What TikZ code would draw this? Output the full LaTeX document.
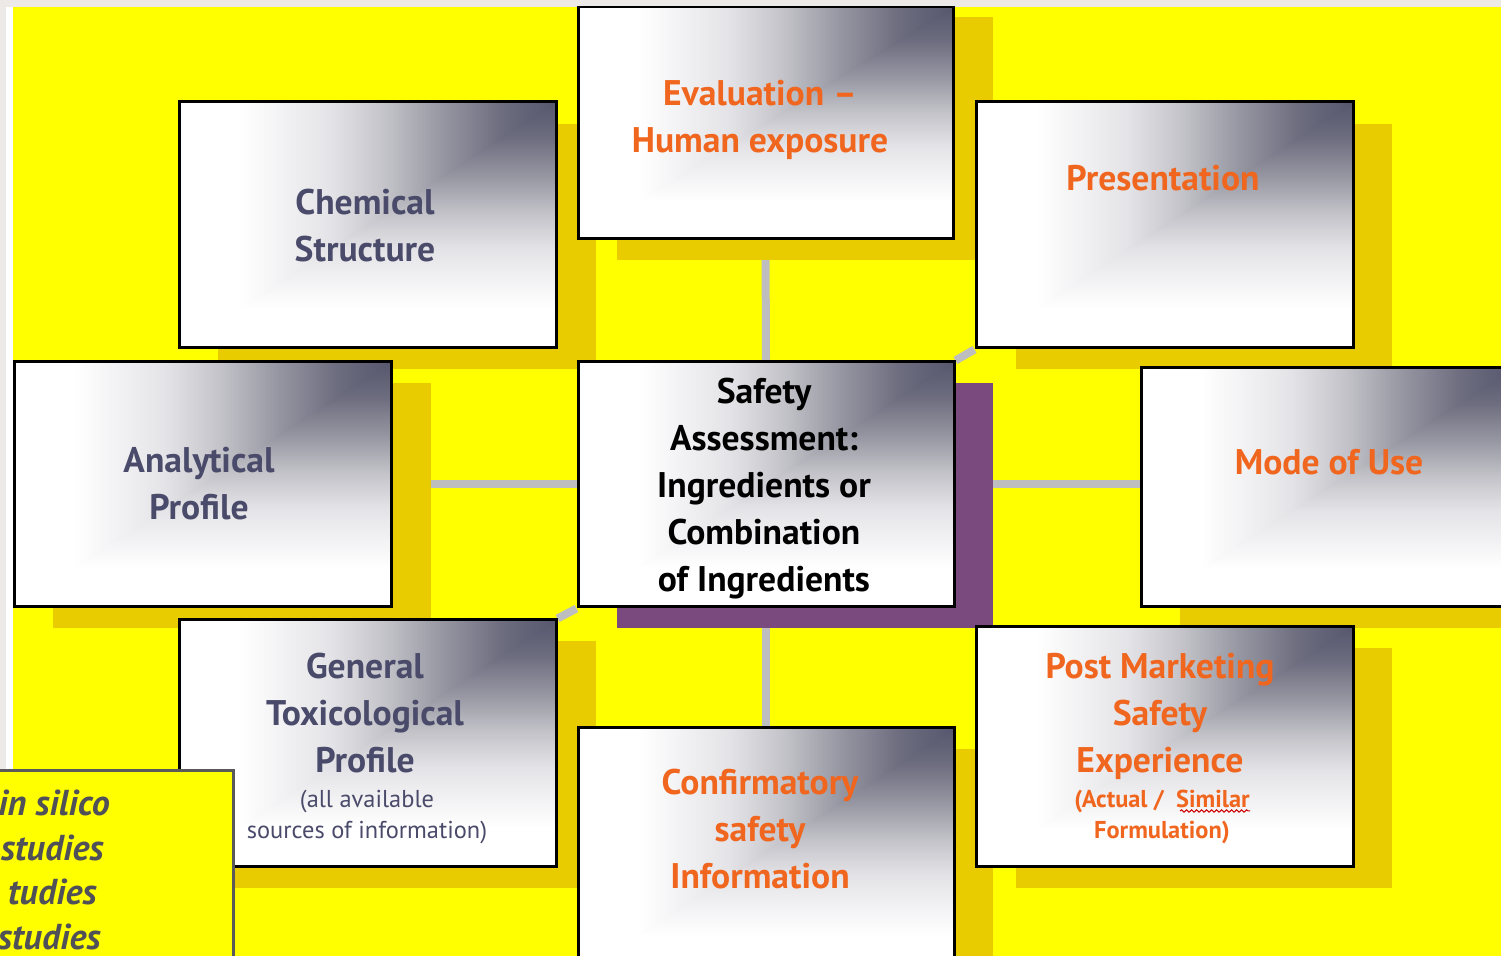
\documentclass[tikz,border=0pt]{standalone}
\usepackage{fontspec}
\setmainfont{PT Sans}
\usetikzlibrary{fit,backgrounds,decorations.pathmorphing}
\definecolor{bgyellow}{HTML}{FFFF00}
\definecolor{shadowyellow}{HTML}{E8CC00}
\definecolor{shadowpurple}{HTML}{7A4A7E}
\definecolor{linkgrey}{HTML}{BEBEBE}
\definecolor{txtorange}{HTML}{F0661E}
\definecolor{txtblue}{HTML}{4A4A6A}
\definecolor{txtgrey}{HTML}{505058}
\definecolor{pagegrey}{HTML}{ECE9E7}
\definecolor{boxgrey}{HTML}{5A5A5A}
\definecolor{shA}{HTML}{E4E4E8}
\definecolor{shB}{HTML}{C2C2C8}
\definecolor{shC}{HTML}{9696A2}
\definecolor{shD}{HTML}{6E6E80}
\definecolor{shE}{HTML}{56566E}
\pgfdeclarehorizontalshading{hshade}{100bp}{color(0bp)=(white); color(33bp)=(white); color(45bp)=(shA); color(52.5bp)=(shB); color(60bp)=(shC); color(67.5bp)=(shD); color(75bp)=(shE); color(100bp)=(shE)}
\pgfdeclareverticalshading{vshade}{100bp}{color(0bp)=(white); color(33bp)=(white); color(45bp)=(shA); color(52.5bp)=(shB); color(60bp)=(shC); color(67.5bp)=(shD); color(75bp)=(shE); color(100bp)=(shE)}
\tikzset{
  panel/.style={draw=black, line width=1.5pt, inner sep=0pt,
    path picture={
      \shade[shading=hshade] (path picture bounding box.south west) rectangle (path picture bounding box.north east);
      \shade[shading=vshade] (path picture bounding box.south west) -- (path picture bounding box.south east) -- (path picture bounding box.north east) -- cycle;
    }},
  bigtxt/.style={font=\bfseries\fontsize{17.8}{23.5}\selectfont, align=center},
  smalltxt/.style={font=\fontsize{12.2}{15.5}\selectfont, align=center},
  italtxt/.style={font=\bfseries\itshape\fontsize{18}{22}\selectfont, text=txtgrey, inner sep=0pt},
  link/.style={draw=linkgrey, line width=4pt},
  shadowfill/.style={fill=shadowyellow},
}
\begin{document}
\begin{tikzpicture}[x=0.5pt,y=-0.5pt]
\useasboundingbox (0,0) rectangle (1501,956);
% panels
\node[panel, fit={(578,7) (953,239)}] (eval) {};
\node[panel, fit={(179,102) (556,348)}] (chem) {};
\node[panel, fit={(976,102) (1353,348)}] (pres) {};
\node[panel, fit={(14,362) (391,607)}] (anal) {};
\node[panel, fit={(578,362) (954,607)}] (center) {};
\node[panel, fit={(1141,368) (1515,607)}] (mode) {};
\node[panel, fit={(179,620) (556,867)}] (gen) {};
\node[panel, fit={(578,728) (954,975)}] (conf) {};
\node[panel, fit={(976,627) (1353,867)}] (post) {};
% texts
\node[bigtxt, text=txtorange] (evalt) at (760,120) {Evaluation --\\Human exposure};
\node[bigtxt, text=txtblue] (chemt) at (365,226) {Chemical\\Structure};
\node[bigtxt, text=txtorange] (prest) at (1163,178) {Presentation};
\node[bigtxt, text=txtblue] (analt) at (199,484) {Analytical\\Profile};
\node[bigtxt, text=black] (centert) at (764,489) {Safety\\Assessment:\\Ingredients or\\Combination\\of Ingredients};
\node[bigtxt, text=txtorange] (modet) at (1329,462) {Mode of Use};
\node[bigtxt, text=txtblue] (gent) at (365,713) {General\\Toxicological\\Profile};
\node[smalltxt, text=txtblue] (gens) at (367,817) {(all available\\sources of information)};
\node[bigtxt, text=txtorange] (conft) at (760,829) {Confirmatory\\safety\\Information};
\node[bigtxt, text=txtorange] (postt) at (1160,716) {Post Marketing\\Safety\\Experience};
\node[smalltxt, text=txtorange, font=\bfseries\fontsize{12.2}{15.5}\selectfont] (posts) at (1162,817) {(Actual /\ \ Similar\\Formulation)};
\draw[red!80!black, line width=0.5pt, decorate, decoration={snake, amplitude=0.6pt, segment length=2.5pt}] (1180,811) -- (1250,811);
% background layers
\begin{scope}[on background layer]
  \fill[pagegrey] (0,0) rectangle (1501,956);
  \fill[white] (6,7) rectangle (13,956);
  \fill[bgyellow] (13,7) rectangle (1501,956);
  \draw[link] (center.north) -- (eval.south);
  \draw[link] (center.south) -- (conf.north);
  \draw[link] (center.west) -- (anal.east);
  \draw[link] (center.east) -- (center.east -| mode.west);
  \draw[link] (center.north west) -- (chem.south east);
  \draw[link] (center.north east) -- (pres.south west);
  \draw[link] (center.south west) -- (gen.north east);
  \draw[link] (center.south east) -- (post.north west);
  \fill[shadowfill] (617,17) rectangle (993,260);
  \fill[shadowfill] (218,124) rectangle (596,369);
  \fill[shadowfill] (1016,124) rectangle (1392,369);
  \fill[shadowfill] (53,383) rectangle (431,628);
  \fill[shadowpurple] (617,383) rectangle (993,628);
  \fill[shadowfill] (1180,389) rectangle (1515,628);
  \fill[shadowfill] (218,641) rectangle (596,888);
  \fill[shadowfill] (617,749) rectangle (993,975);
  \fill[shadowfill] (1016,648) rectangle (1392,888);
\end{scope}
% top strip
\fill[pagegrey] (0,0) rectangle (1501,6.5);
% bottom-left text box
\node[draw=boxgrey, line width=1.5pt, fill=bgyellow, inner sep=0pt, fit={(-10,771) (233,975)}] (silico) {};
\node[italtxt, anchor=base east] (s1) at (110,816) {in silico};
\node[italtxt, anchor=base east] (s2) at (104,861) {studies};
\node[italtxt, anchor=base east] (s3) at (97,905) {tudies};
\node[italtxt, anchor=base east] (s4) at (101,950) {studies};
\end{tikzpicture}
\end{document}
